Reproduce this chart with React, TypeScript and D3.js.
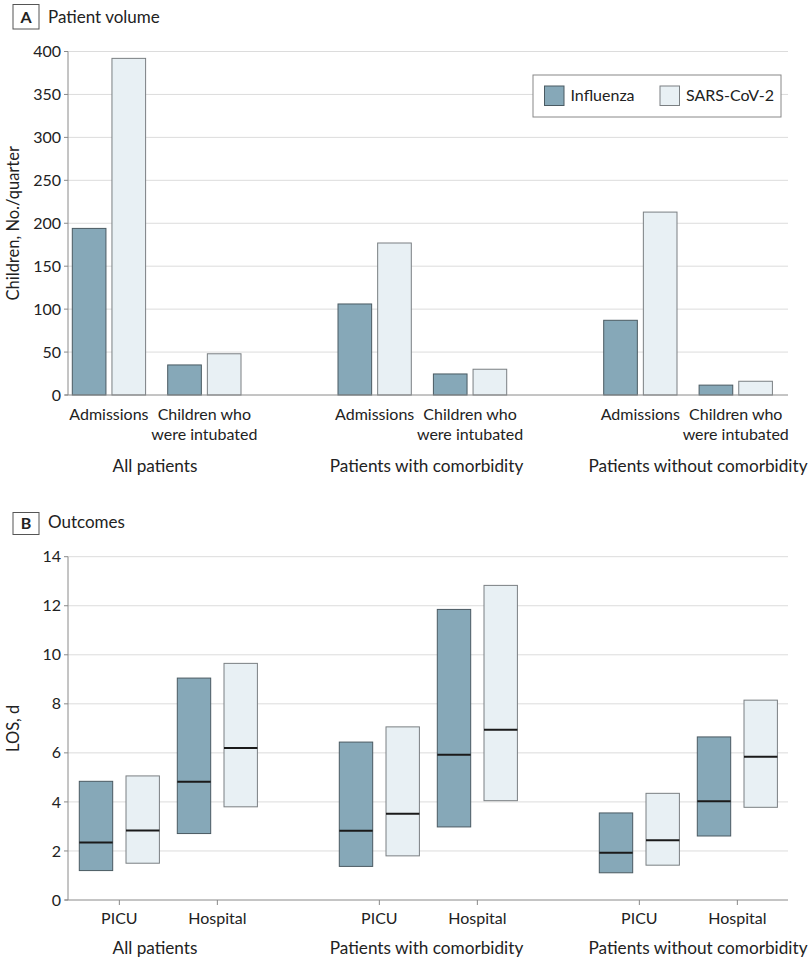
import React from "react";
import * as d3 from "d3";

const groups = ["All patients", "Patients with comorbidity", "Patients without comorbidity"];
const volumeCats = ["Admissions", "Children who were intubated"];
const volumeCatLines: Record<string, string[]> = {
  "Admissions": ["Admissions"],
  "Children who were intubated": ["Children who", "were intubated"],
};
const seriesNames = ["Influenza", "SARS-CoV-2"];

// Panel A values: [group][category][series]
const influenzaVolume = [
  [194, 35],
  [106, 24.5],
  [87, 11.5],
];
const sarsVolume = [
  [392, 48],
  [177, 30],
  [213, 16],
];
const volumeTicks = [0, 50, 100, 150, 200, 250, 300, 350, 400];

// Panel B: LOS boxes [group][category] = [low, median, high]
const outcomeCats = ["PICU", "Hospital"];
const influenzaLOS = [
  [[1.2, 2.34, 4.84], [2.71, 4.82, 9.05]],
  [[1.37, 2.82, 6.44], [2.98, 5.92, 11.85]],
  [[1.11, 1.93, 3.55], [2.61, 4.03, 6.65]],
];
const sarsLOS = [
  [[1.5, 2.83, 5.06], [3.8, 6.2, 9.65]],
  [[1.8, 3.52, 7.06], [4.05, 6.94, 12.83]],
  [[1.42, 2.44, 4.35], [3.78, 5.84, 8.15]],
];
const losTicks = [0, 2, 4, 6, 8, 10, 12, 14];

const FONT = "Lato, 'Open Sans', sans-serif";
const FLU_FILL = "#86a8b8";
const FLU_STROKE = "#4a5a62";
const SARS_FILL = "#e8f0f4";
const SARS_STROKE = "#7a7f82";
const GRID = "#dcdcdc";
const AXIS = "#8a8a8a";
const TEXT = "#222";

export default function App() {
  const W = 810, H = 961;
  const axisX = 68, axisEnd = 788;

  // group label positions (shared by both panels)
  const gLabel = d3.scalePoint<string>().domain(groups).range([155, 698]);

  // Panel A scales
  const yA = d3.scaleLinear().domain([0, 400]).range([395, 51.5]);
  const gA = d3.scaleBand<string>().domain(groups).range([72.3, 72.3 + 3 * 265.7]).paddingInner(0);
  const cA = d3.scaleBand<string>().domain(volumeCats).range([0, 2 * 95.4]);
  const sA = d3.scaleBand<string>().domain(seriesNames).range([0, 73.3]).paddingInner(0.1515);

  // Panel B scales
  const yB = d3.scaleLinear().domain([0, 14]).range([900, 556.7]);
  const gB = d3.scaleBand<string>().domain(groups).range([79.3, 79.3 + 3 * 260]).paddingInner(0);
  const cB = d3.scaleBand<string>().domain(outcomeCats).range([0, 2 * 98]);
  const sB = d3.scaleBand<string>().domain(seriesNames).range([0, 80.1]).paddingInner(0.285);

  const volData = [influenzaVolume, sarsVolume];
  const losData = [influenzaLOS, sarsLOS];
  const fills = [FLU_FILL, SARS_FILL];
  const strokes = [FLU_STROKE, SARS_STROKE];

  return (
    <svg width={W} height={H} style={{ position: "absolute", left: 0, top: 0, background: "#fff" }} fontFamily={FONT}>
      {/* Panel A header */}
      <rect x={13} y={4.5} width={26} height={24.5} fill="#fff" stroke="#555" strokeWidth={1} />
      <text x={26} y={23} textAnchor="middle" fontSize={16} fontWeight="bold" fill={TEXT}>A</text>
      <text x={48} y={23} fontSize={17} fill={TEXT}>Patient volume</text>

      {/* Panel A grid */}
      {volumeTicks.filter(t => t > 0).map(t => (
        <line key={"ga" + t} x1={axisX} x2={axisEnd} y1={yA(t)} y2={yA(t)} stroke={GRID} strokeWidth={1} />
      ))}
      {/* Panel A bars */}
      {groups.map((g, gi) =>
        volumeCats.map((c, ci) =>
          seriesNames.map((s, si) => {
            const v = volData[si][gi][ci];
            const x = (gA(g) as number) + (cA(c) as number) + (sA(s) as number);
            return (
              <rect key={g + c + s} x={x} y={yA(v)} width={sA.bandwidth()} height={yA(0) - yA(v)}
                fill={fills[si]} stroke={strokes[si]} strokeWidth={1} />
            );
          })
        )
      )}
      {/* Panel A axes */}
      <line x1={axisX} x2={axisX} y1={yA(400)} y2={yA(0)} stroke={AXIS} strokeWidth={1} />
      <line x1={axisX - 3} x2={axisEnd} y1={yA(0)} y2={yA(0)} stroke={AXIS} strokeWidth={1} />
      {volumeTicks.map(t => (
        <g key={"ta" + t}>
          <line x1={axisX - 4} x2={axisX} y1={yA(t)} y2={yA(t)} stroke={AXIS} />
          <text x={axisX - 7} y={yA(t)} dy="0.35em" textAnchor="end" fontSize={16} fill={TEXT}>{t}</text>
        </g>
      ))}
      <text transform={`translate(19,${(yA(0) + yA(400)) / 2}) rotate(-90)`} textAnchor="middle" fontSize={16.5} fill={TEXT}>
        Children, No./quarter
      </text>
      {/* Panel A x labels */}
      {groups.map(g => (
        <g key={"xa" + g}>
          {volumeCats.map(c => {
            const cx = (gA(g) as number) + (cA(c) as number) + 73.3 / 2;
            return volumeCatLines[c].map((ln, li) => (
              <text key={c + li} x={cx} y={420 + li * 19.5} textAnchor="middle" fontSize={16} fill={TEXT}>{ln}</text>
            ));
          })}
          <text x={gLabel(g)} y={472} textAnchor="middle" fontSize={17.2} fill={TEXT}>{g}</text>
        </g>
      ))}
      {/* Legend */}
      <rect x={533} y={75} width={248} height={42} fill="#fff" stroke="#888" strokeWidth={1} />
      {seriesNames.map((s, si) => {
        const lx = si === 0 ? 544.5 : 660;
        return (
          <g key={"lg" + s}>
            <rect x={lx} y={86} width={19.5} height={19.5} fill={fills[si]} stroke={strokes[si]} />
            <text x={lx + 26} y={101} fontSize={16} fill={TEXT}>{s}</text>
          </g>
        );
      })}

      {/* Panel B header */}
      <rect x={13} y={512.5} width={26} height={22} fill="#fff" stroke="#555" strokeWidth={1} />
      <text x={26} y={528.5} textAnchor="middle" fontSize={16} fontWeight="bold" fill={TEXT}>B</text>
      <text x={48} y={528} fontSize={17} fill={TEXT}>Outcomes</text>

      {losTicks.filter(t => t > 0).map(t => (
        <line key={"gb" + t} x1={axisX} x2={axisEnd} y1={yB(t)} y2={yB(t)} stroke={GRID} strokeWidth={1} />
      ))}
      {groups.map((g, gi) =>
        outcomeCats.map((c, ci) =>
          seriesNames.map((s, si) => {
            const [lo, med, hi] = losData[si][gi][ci];
            const x = (gB(g) as number) + (cB(c) as number) + (sB(s) as number);
            const w = sB.bandwidth();
            return (
              <g key={"bx" + g + c + s}>
                <rect x={x} y={yB(hi)} width={w} height={yB(lo) - yB(hi)} fill={fills[si]} stroke={strokes[si]} strokeWidth={1} />
                <line x1={x} x2={x + w} y1={yB(med)} y2={yB(med)} stroke="#1a1a1a" strokeWidth={2} />
              </g>
            );
          })
        )
      )}
      <line x1={axisX} x2={axisX} y1={yB(14)} y2={yB(0)} stroke={AXIS} strokeWidth={1} />
      <line x1={axisX - 3} x2={axisEnd} y1={yB(0)} y2={yB(0)} stroke={AXIS} strokeWidth={1} />
      {losTicks.map(t => (
        <g key={"tb" + t}>
          <line x1={axisX - 4} x2={axisX} y1={yB(t)} y2={yB(t)} stroke={AXIS} />
          <text x={axisX - 7} y={yB(t)} dy="0.35em" textAnchor="end" fontSize={16} fill={TEXT}>{t}</text>
        </g>
      ))}
      <text transform={`translate(19,${(yB(0) + yB(14)) / 2}) rotate(-90)`} textAnchor="middle" fontSize={16.5} fill={TEXT}>
        LOS, d
      </text>
      {groups.map(g => (
        <g key={"xb" + g}>
          {outcomeCats.map(c => {
            const cx = (gB(g) as number) + (cB(c) as number) + 80.1 / 2;
            return (
              <g key={c}>
                <line x1={cx} x2={cx} y1={yB(0)} y2={yB(0) + 5} stroke={AXIS} />
                <text x={cx} y={924} textAnchor="middle" fontSize={16} fill={TEXT}>{c}</text>
              </g>
            );
          })}
          <text x={gLabel(g)} y={954} textAnchor="middle" fontSize={17.2} fill={TEXT}>{g}</text>
        </g>
      ))}
    </svg>
  );
}
